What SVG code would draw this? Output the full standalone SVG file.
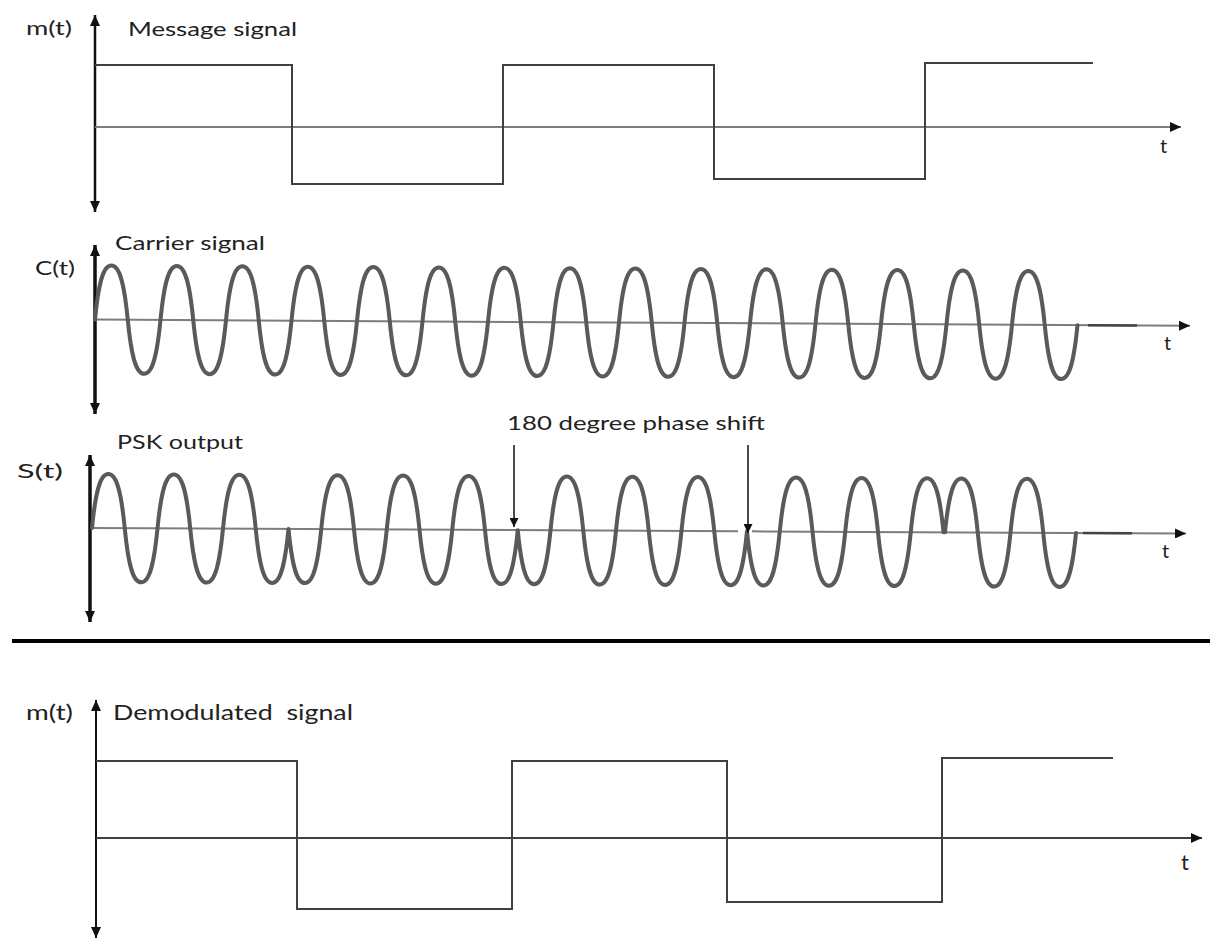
<svg xmlns="http://www.w3.org/2000/svg" width="1210" height="945" viewBox="0 0 1210 945">
  <style>
    .lbl { font-family: Lato, "Liberation Sans", sans-serif; fill: #222; }
    .axis { stroke: #111; fill: none; }
    .base { stroke: #7d7d7d; stroke-width: 2; fill: none; }
    .sq { stroke: #404040; stroke-width: 2; fill: none; }
    .wave { stroke: #5a5a5a; stroke-width: 4; fill: none; stroke-linejoin: round; stroke-linecap: round; }
    .dash { stroke: #444; stroke-width: 2.5; }
  </style>
  <defs>
    <marker id="tip" markerUnits="userSpaceOnUse" markerWidth="12" markerHeight="10" refX="11" refY="5" orient="auto-start-reverse">
      <path d="M0,0 L11,5 L0,10 z" fill="#111"/>
    </marker>
    <marker id="tipSmall" markerUnits="userSpaceOnUse" markerWidth="10" markerHeight="9" refX="9" refY="4.5" orient="auto">
      <path d="M0,0 L9,4.5 L0,9 z" fill="#111"/>
    </marker>
  </defs>
  <rect width="1210" height="945" fill="#fff"/>

  <!-- message signal m(t) -->
  <g id="panel-message">
    <text class="lbl" x="26" y="35" font-size="19" textLength="46" lengthAdjust="spacingAndGlyphs">m(t)</text>
    <text class="lbl" x="128" y="36" font-size="19" textLength="169" lengthAdjust="spacingAndGlyphs">Message signal</text>
    <line class="axis" x1="95" y1="212" x2="95" y2="15" stroke-width="2.5" marker-start="url(#tip)" marker-end="url(#tip)"/>
    <line class="base" x1="95" y1="127" x2="1181" y2="127" stroke="#666" marker-end="url(#tip)"/>
    <polyline class="sq" points="95,65 292,65 292,184 503,184 503,65 714,65 714,179 925,179 925,63 1093,63"/>
    <text class="lbl" x="1160" y="153" font-size="20">t</text>
  </g>

  <!-- carrier signal c(t): 15 cycles, period 65.5 px -->
  <g id="panel-carrier">
    <text class="lbl" x="115" y="250" font-size="19" textLength="150" lengthAdjust="spacingAndGlyphs">Carrier signal</text>
    <text class="lbl" x="35" y="275" font-size="19" textLength="40" lengthAdjust="spacingAndGlyphs">C(t)</text>
    <line class="axis" x1="95" y1="414" x2="95" y2="245" stroke-width="3.5" marker-start="url(#tip)" marker-end="url(#tip)"/>
    <g transform="translate(95,319.5) skewY(0.33)">
      <line class="base" x1="0" y1="0" x2="1095" y2="0" marker-end="url(#tip)"/>
      <line class="dash" x1="993" y1="0" x2="1042" y2="0"/>
      <path class="wave" d="M0,0 c3.6,-37 8.2,-54 16.375,-54 s12.775,17 16.375,54 s8.2,54 16.375,54 s12.775,-17 16.375,-54
        s8.2,-54 16.375,-54 s12.775,17 16.375,54 s8.2,54 16.375,54 s12.775,-17 16.375,-54
        s8.2,-54 16.375,-54 s12.775,17 16.375,54 s8.2,54 16.375,54 s12.775,-17 16.375,-54
        s8.2,-54 16.375,-54 s12.775,17 16.375,54 s8.2,54 16.375,54 s12.775,-17 16.375,-54
        s8.2,-54 16.375,-54 s12.775,17 16.375,54 s8.2,54 16.375,54 s12.775,-17 16.375,-54
        s8.2,-54 16.375,-54 s12.775,17 16.375,54 s8.2,54 16.375,54 s12.775,-17 16.375,-54
        s8.2,-54 16.375,-54 s12.775,17 16.375,54 s8.2,54 16.375,54 s12.775,-17 16.375,-54
        s8.2,-54 16.375,-54 s12.775,17 16.375,54 s8.2,54 16.375,54 s12.775,-17 16.375,-54
        s8.2,-54 16.375,-54 s12.775,17 16.375,54 s8.2,54 16.375,54 s12.775,-17 16.375,-54
        s8.2,-54 16.375,-54 s12.775,17 16.375,54 s8.2,54 16.375,54 s12.775,-17 16.375,-54
        s8.2,-54 16.375,-54 s12.775,17 16.375,54 s8.2,54 16.375,54 s12.775,-17 16.375,-54
        s8.2,-54 16.375,-54 s12.775,17 16.375,54 s8.2,54 16.375,54 s12.775,-17 16.375,-54
        s8.2,-54 16.375,-54 s12.775,17 16.375,54 s8.2,54 16.375,54 s12.775,-17 16.375,-54
        s8.2,-54 16.375,-54 s12.775,17 16.375,54 s8.2,54 16.375,54 s12.775,-17 16.375,-54
        s8.2,-54 16.375,-54 s12.775,17 16.375,54 s8.2,54 16.375,54 s12.775,-17 16.375,-54"/>
    </g>
    <text class="lbl" x="1164" y="350" font-size="20">t</text>
  </g>

  <!-- PSK output s(t): phase flips at each message transition -->
  <g id="panel-psk">
    <text class="lbl" x="117" y="449" font-size="19" textLength="126" lengthAdjust="spacingAndGlyphs">PSK output</text>
    <text class="lbl" x="17" y="478" font-size="19" textLength="46" lengthAdjust="spacingAndGlyphs">S(t)</text>
    <line class="axis" x1="90" y1="622" x2="90" y2="455" stroke-width="3.5" marker-start="url(#tip)" marker-end="url(#tip)"/>
    <g transform="translate(92,528) skewY(0.29)">
      <line class="base" x1="0" y1="0" x2="646" y2="0"/>
      <line class="base" x1="660" y1="0" x2="1094" y2="0" marker-end="url(#tip)"/>
      <line class="dash" x1="991" y1="0" x2="1040" y2="0"/>
      <path class="wave" d="M0,0 c3.6,-37 8.2,-54 16.375,-54 s12.775,17 16.375,54 s8.2,54 16.375,54 s12.775,-17 16.375,-54
        s8.2,-54 16.375,-54 s12.775,17 16.375,54 s8.2,54 16.375,54 s12.775,-17 16.375,-54
        s8.2,-54 16.375,-54 s12.775,17 16.375,54 s8.2,54 16.375,54 s12.775,-17 16.375,-54
        c3.6,37 8.2,54 16.375,54 s12.775,-17 16.375,-54 s8.2,-54 16.375,-54 s12.775,17 16.375,54
        s8.2,54 16.375,54 s12.775,-17 16.375,-54 s8.2,-54 16.375,-54 s12.775,17 16.375,54
        s8.2,54 16.375,54 s12.775,-17 16.375,-54 s8.2,-54 16.375,-54 s12.775,17 16.375,54
        s8.2,54 16.375,54 s12.775,-17 16.375,-54
        c3.6,37 8.2,54 16.375,54 s12.775,-17 16.375,-54 s8.2,-54 16.375,-54 s12.775,17 16.375,54
        s8.2,54 16.375,54 s12.775,-17 16.375,-54 s8.2,-54 16.375,-54 s12.775,17 16.375,54
        s8.2,54 16.375,54 s12.775,-17 16.375,-54 s8.2,-54 16.375,-54 s12.775,17 16.375,54
        s8.2,54 16.375,54 s12.775,-17 16.375,-54
        c3.6,37 8.2,54 16.375,54 s12.775,-17 16.375,-54 s8.2,-54 16.375,-54 s12.775,17 16.375,54
        s8.2,54 16.375,54 s12.775,-17 16.375,-54 s8.2,-54 16.375,-54 s12.775,17 16.375,54
        s8.2,54 16.375,54 s12.775,-17 16.375,-54 s8.2,-54 16.375,-54 s12.775,17 16.375,54
        l1.5,0
        c3.6,-37 8.2,-54 16.375,-54 s12.775,17 16.375,54 s8.2,54 16.375,54 s12.775,-17 16.375,-54
        s8.2,-54 16.375,-54 s12.775,17 16.375,54 s8.2,54 16.375,54 s12.775,-17 16.375,-54"/>
    </g>
    <text class="lbl" x="1162" y="558" font-size="20">t</text>
  </g>

  <!-- phase-shift annotation -->
  <g id="connectors">
    <text class="lbl" x="507" y="430" font-size="20" textLength="258" lengthAdjust="spacingAndGlyphs">180 degree phase shift</text>
    <line x1="514" y1="445" x2="514" y2="527" stroke="#111" stroke-width="1.5" marker-end="url(#tipSmall)"/>
    <line x1="748" y1="445" x2="748" y2="533" stroke="#111" stroke-width="1.5" marker-end="url(#tipSmall)"/>
  </g>

  <!-- divider -->
  <rect id="divider" x="12" y="639" width="1198" height="4" fill="#000"/>

  <!-- demodulated signal -->
  <g id="panel-demod">
    <text class="lbl" x="26" y="720" font-size="21" textLength="47" lengthAdjust="spacingAndGlyphs">m(t)</text>
    <text class="lbl" x="113" y="720" font-size="21" textLength="240" lengthAdjust="spacingAndGlyphs" style="white-space:pre">Demodulated  signal</text>
    <line class="axis" x1="96" y1="938" x2="96" y2="700" stroke-width="2" marker-start="url(#tip)" marker-end="url(#tip)"/>
    <line class="sq" x1="96" y1="838" x2="1202" y2="838" marker-end="url(#tip)"/>
    <polyline class="sq" points="96,761 297,761 297,909 512,909 512,761 727,761 727,902 942,902 942,758 1113,758"/>
    <text class="lbl" x="1181" y="870" font-size="22">t</text>
  </g>
</svg>
